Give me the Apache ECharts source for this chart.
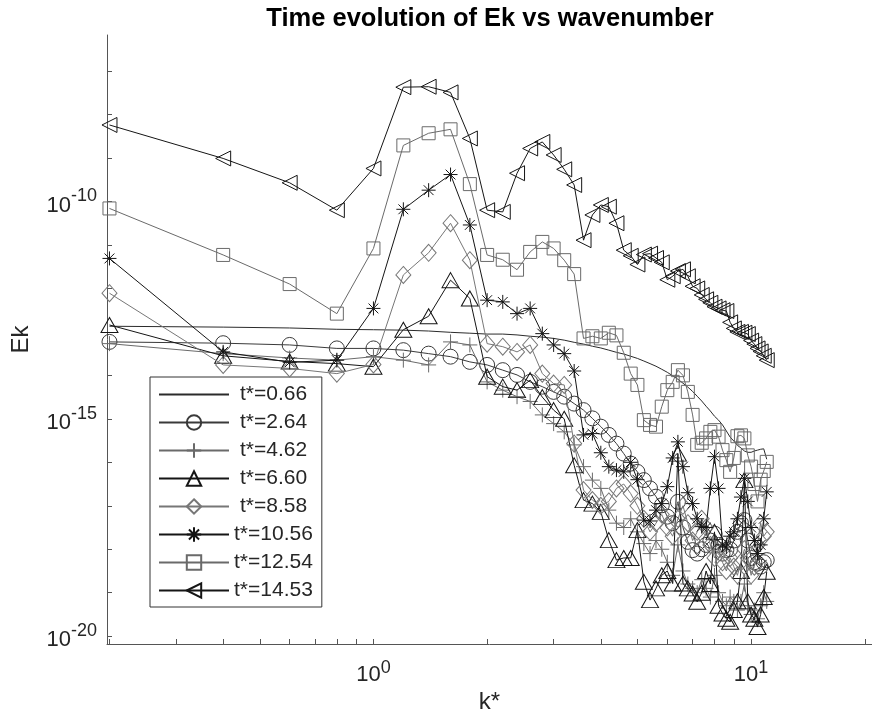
<!DOCTYPE html>
<html>
<head>
<meta charset="utf-8">
<title>Time evolution of Ek vs wavenumber</title>
<script src="https://cdn.jsdelivr.net/npm/echarts@6/dist/echarts.min.js"></script>
<style>
  html, body { margin: 0; padding: 0; background: #fff; }
  #chart { width: 872px; height: 725px; }
</style>
</head>
<body>
<div id="chart"></div>
<script>
// wavenumber k*
const kStar = [0.2, 0.4, 0.6, 0.8, 1.0, 1.2, 1.4, 1.6, 1.8, 2.0,
  2.2, 2.4, 2.6, 2.8, 3.0, 3.2, 3.4, 3.6, 3.8, 4.0,
  4.2, 4.4, 4.6, 4.8, 5.0, 5.2, 5.4, 5.6, 5.8, 6.0,
  6.2, 6.4, 6.6, 6.8, 7.0, 7.2, 7.4, 7.6, 7.8, 8.0,
  8.2, 8.4, 8.6, 8.8, 9.0, 9.2, 9.4, 9.6, 9.8, 10.0,
  10.2, 10.4, 10.6, 10.8, 11.0];

// log10(Ek) per time
const ek066 = [-12.87, -12.89, -12.91, -12.94, -12.95, -12.96, -12.98, -13.01, -13.03, -13.05,
  -13.05, -13.07, -13.10, -13.12, -13.15, -13.19, -13.24, -13.28, -13.33, -13.37,
  -13.42, -13.47, -13.51, -13.56, -13.61, -13.67, -13.73, -13.79, -13.86, -13.93,
  -14.01, -14.09, -14.18, -14.27, -14.37, -14.48, -14.59, -14.71, -14.82, -14.94,
  -15.03, -15.14, -15.28, -15.42, -15.51, -15.61, -15.67, -15.74, -15.77, -15.77,
  -15.74, -15.72, -15.70, -15.69, -15.93];
const ek264 = [-13.23, -13.26, -13.30, -13.38, -13.38, -13.42, -13.50, -13.57, -13.69, -13.76,
  -13.88, -13.99, -14.15, -14.26, -14.38, -14.49, -14.65, -14.80, -14.99, -15.18,
  -15.37, -15.57, -15.80, -16.03, -16.22, -16.41, -16.60, -16.79, -16.99, -17.25,
  -17.40, -16.91, -17.50, -17.83, -18.02, -18.10, -18.00, -17.90, -17.80, -17.64,
  -17.90, -18.10, -18.02, -18.00, -17.80, -17.60, -17.40, -17.33, -17.80, -18.20,
  -18.30, -18.33, -18.40, -18.30, -18.25];
const ek462 = [-13.27, -13.50, -13.60, -13.65, -13.57, -13.65, -13.76, -13.23, -13.30, -14.15,
  -14.34, -14.49, -14.60, -14.91, -15.11, -15.30, -15.60, -16.10, -16.41, -16.60,
  -17.10, -17.40, -17.50, -17.30, -17.60, -17.87, -18.10, -17.80, -18.00, -18.30,
  -18.60, -17.90, -18.50, -18.80, -18.90, -19.00, -18.70, -18.90, -19.10, -18.60,
  -19.00, -19.20, -19.30, -19.10, -19.20, -19.40, -19.20, -18.80, -19.30, -19.50,
  -19.40, -19.60, -19.30, -19.00, -19.20];
const ek660 = [-12.84, -13.55, -13.68, -13.73, -13.80, -12.95, -12.64, -11.81, -12.23, -14.03,
  -14.26, -14.34, -14.11, -14.50, -14.80, -15.00, -16.07, -16.87, -16.95, -17.14,
  -17.79, -18.25, -18.20, -18.20, -17.56, -18.75, -19.17, -18.90, -18.60, -18.50,
  -18.79, -15.80, -18.79, -18.90, -19.02, -19.21, -19.00, -18.50, -18.80, -17.60,
  -19.30, -19.48, -19.60, -19.67, -19.40, -19.20, -18.50, -16.41, -19.20, -19.50,
  -19.60, -19.79, -19.50, -19.10, -18.52];
const ek858 = [-12.11, -13.76, -13.84, -13.96, -13.75, -11.69, -11.18, -10.50, -11.35, -13.27,
  -13.34, -13.46, -13.30, -13.96, -14.19, -14.22, -15.57, -16.64, -16.87, -17.00,
  -16.90, -16.60, -16.50, -16.72, -17.00, -17.30, -17.60, -17.40, -17.20, -17.50,
  -17.70, -17.30, -17.00, -17.40, -17.80, -17.60, -17.30, -17.50, -17.90, -18.20,
  -18.00, -18.30, -18.50, -18.20, -18.40, -18.60, -18.30, -18.00, -18.20, -18.60,
  -18.40, -17.90, -17.40, -17.70, -17.60];
const ek1056 = [-11.31, -13.46, -13.70, -13.65, -12.46, -10.18, -9.74, -9.38, -10.54, -12.27,
  -12.31, -12.58, -12.46, -13.04, -13.30, -13.50, -13.90, -15.37, -15.34, -15.78,
  -16.10, -16.18, -16.22, -16.00, -16.40, -17.33, -17.35, -17.10, -16.95, -16.56,
  -15.90, -15.53, -16.10, -16.70, -16.95, -17.30, -17.48, -17.50, -16.60, -15.87,
  -16.60, -17.90, -17.95, -17.70, -17.60, -17.30, -16.80, -16.37, -16.90, -17.50,
  -17.80, -18.10, -17.90, -17.30, -16.68];
const ek1254 = [-10.16, -11.23, -11.90, -12.58, -11.08, -8.71, -8.43, -8.34, -9.60, -11.23,
  -11.34, -11.57, -11.16, -10.93, -11.08, -11.35, -11.67, -13.15, -13.10, -13.15,
  -13.02, -13.08, -13.48, -13.96, -14.22, -15.03, -15.14, -15.18, -14.72, -14.34,
  -14.15, -13.88, -14.00, -14.38, -14.91, -15.60, -15.55, -15.45, -15.30, -15.26,
  -15.41, -15.72, -15.95, -16.22, -15.90, -15.40, -15.38, -15.45, -15.84, -16.10,
  -16.50, -16.90, -16.40, -16.20, -15.99];
const ek1453 = [-8.24, -9.01, -9.57, -10.20, -9.24, -7.37, -7.36, -7.49, -8.55, -10.20,
  -10.24, -9.35, -8.78, -8.63, -8.93, -9.26, -9.62, -10.89, -10.31, -10.08,
  -10.12, -10.50, -11.12, -11.25, -11.45, -11.22, -11.20, -11.30, -11.40, -11.80,
  -11.72, -11.60, -11.56, -11.72, -11.95, -12.00, -12.15, -12.25, -12.33, -12.42,
  -12.46, -12.50, -12.52, -12.78, -12.92, -13.00, -13.00, -13.02, -13.05, -13.20,
  -13.28, -13.38, -13.45, -13.55, -13.65];

const seriesNames = ['t*=0.66', 't*=2.64', 't*=4.62', 't*=6.60', 't*=8.58', 't*=10.56', 't*=12.54', 't*=14.53'];
const seriesValues = [ek066, ek264, ek462, ek660, ek858, ek1056, ek1254, ek1453];

// axis ticks (k* values / Ek exponents)
const xTickK = [0.2, 0.3, 0.4, 0.5, 0.6, 0.7, 0.8, 0.9, 1, 2, 3, 4, 5, 6, 7, 8, 9, 10, 20];
const xLabelK = [1, 10];
const yTickExp = [-20, -19, -18, -17, -16, -15, -14, -13, -12, -11, -10, -9, -8, -7];
const yLabelExp = [-20, -15, -10];

// marker look per series (matlab style, hollow markers)
const plusPath = 'path://M5 0L5 10M0 5L10 5';
const starPath = 'path://M5 0L5 10M0 5L10 5M1.5 1.5L8.5 8.5M1.5 8.5L8.5 1.5';
const leftTriPath = 'path://M0 5L10 0L10 10Z';
const looks = [
  { symbol: 'none', size: 0, color: '#2b2b2b' },
  { symbol: 'circle', size: 15, color: '#3a3a3a' },
  { symbol: plusPath, size: 15, color: '#6a6a6a' },
  { symbol: 'triangle', size: [17, 15], color: '#151515' },
  { symbol: 'diamond', size: [15, 17], color: '#777777' },
  { symbol: starPath, size: 14, color: '#151515' },
  { symbol: 'rect', size: 13, color: '#6a6a6a' },
  { symbol: leftTriPath, size: 15, color: '#151515' }
];

const textColor = '#262626';
const fontFamily = 'Liberation Sans, Arial, sans-serif';
const log10 = v => Math.log10(v);
const powLabel = v => '{b|10}{s|' + Math.round(v) + '}';

// base "10" sits at the bottom of a tall line box, exponent at its top
function powRich(baseBox) {
  return {
    b: { fontSize: 22, color: textColor, fontFamily, verticalAlign: 'bottom', lineHeight: baseBox },
    s: { fontSize: 18, color: textColor, fontFamily, verticalAlign: 'top', lineHeight: 18 }
  };
}

const chart = echarts.init(document.getElementById('chart'));

const series = seriesNames.map((name, i) => {
  const look = looks[i];
  return {
    name,
    type: 'line',
    data: kStar.map((k, j) => [log10(k), seriesValues[i][j]]),
    symbol: look.symbol,
    symbolSize: look.size,
    showSymbol: look.symbol !== 'none',
    lineStyle: { color: look.color, width: 1 },
    itemStyle: { color: 'rgba(255,255,255,0)', borderColor: look.color, borderWidth: 1 },
    emphasis: { disabled: true },
    clip: false,
    z: 2 + i
  };
});

const option = {
  animation: false,
  backgroundColor: '#fff',
  title: {
    text: 'Time evolution of Ek vs wavenumber',
    left: 490,
    top: 6,
    padding: 0,
    textAlign: 'center',
    textStyle: { fontSize: 25.5, fontWeight: 'bold', color: '#000', fontFamily }
  },
  legend: {
    orient: 'vertical',
    left: 150,
    top: 377,
    padding: [7, 9, 6, 8],
    itemWidth: 70,
    itemHeight: 18,
    itemGap: 7,
    backgroundColor: '#fff',
    borderColor: '#333',
    borderWidth: 1,
    borderRadius: 0,
    textStyle: { fontSize: 21, color: textColor, fontFamily, lineHeight: 18 },
    data: seriesNames.map((name, i) => {
      const item = { name, textStyle: { padding: [0, 0, 0, name.length < 8 ? 6 : 0] } };
      // plain line entry: hide the marker
      if (looks[i].symbol === 'none') item.itemStyle = { color: 'rgba(0,0,0,0)', borderColor: 'rgba(0,0,0,0)', borderWidth: 0 };
      return item;
    })
  },
  grid: { left: 107, top: 35, right: 0, bottom: 81, containLabel: false },
  xAxis: {
    type: 'value',
    min: log10(0.197),
    max: log10(20.9),
    name: 'k*',
    nameLocation: 'middle',
    nameGap: 42,
    nameTextStyle: { fontSize: 24, color: textColor, fontFamily },
    axisLine: { show: true, onZero: false, lineStyle: { color: '#555', width: 1 } },
    axisTick: { show: true, inside: true, length: 5, customValues: xTickK.map(log10), lineStyle: { color: '#555' } },
    axisLabel: { customValues: xLabelK.map(log10), margin: 15, formatter: powLabel, rich: powRich(26.5) },
    splitLine: { show: false }
  },
  yAxis: {
    type: 'value',
    min: -20.18,
    max: -6.17,
    name: 'Ek',
    nameLocation: 'middle',
    nameGap: 74,
    nameRotate: 90,
    nameTextStyle: { fontSize: 24, color: textColor, fontFamily },
    axisLine: { show: true, onZero: false, lineStyle: { color: '#555', width: 1 } },
    axisTick: { show: true, inside: true, length: 5, customValues: yTickExp, lineStyle: { color: '#555' } },
    axisLabel: { customValues: yLabelExp, margin: 10, padding: [1, 0, 0, 0], formatter: powLabel, rich: powRich(29) },
    splitLine: { show: false }
  },
  series
};

chart.setOption(option);
</script>
</body>
</html>
